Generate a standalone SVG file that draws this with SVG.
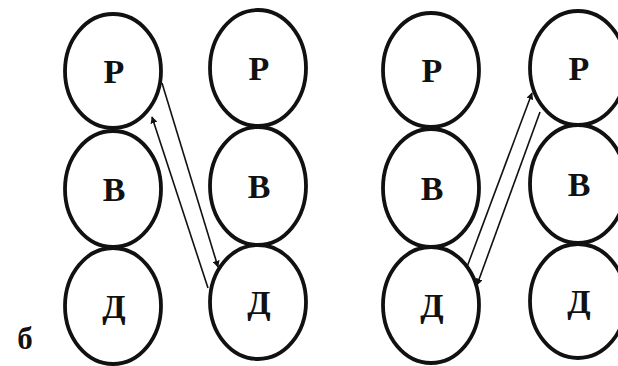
<svg xmlns="http://www.w3.org/2000/svg" width="618" height="366" viewBox="0 0 618 366">
<defs>
<style>
.n ellipse{fill:none;stroke:#111;stroke-width:3.8}
.n text{font-family:"Liberation Serif","DejaVu Serif",serif;font-weight:bold;font-size:34px;fill:#111;text-anchor:middle}
.c line{stroke:#111;stroke-width:1.6}
</style>
<marker id="ah" viewBox="0 0 10 10" refX="9" refY="5" markerWidth="7" markerHeight="7" markerUnits="userSpaceOnUse" orient="auto">
<path d="M0,0 L10,5 L0,10 z" fill="#111"/>
</marker>
</defs>
<rect width="618" height="366" fill="#fff"/>
<g id="c1p" class="n"><ellipse cx="113" cy="71" rx="48" ry="57"/><text x="114" y="83">Р</text></g>
<g id="c1b" class="n"><ellipse cx="113" cy="189" rx="48" ry="58"/><text x="114" y="201">В</text></g>
<g id="c1d" class="n"><ellipse cx="113" cy="306" rx="48" ry="58"/><text x="114" y="318">Д</text></g>
<g id="c2p" class="n"><ellipse cx="258" cy="68" rx="48" ry="58"/><text x="259" y="80">Р</text></g>
<g id="c2b" class="n"><ellipse cx="258" cy="186" rx="48" ry="59"/><text x="259" y="198">В</text></g>
<g id="c2d" class="n"><ellipse cx="258" cy="302" rx="48" ry="57"/><text x="259" y="314">Д</text></g>
<g id="c3p" class="n"><ellipse cx="431" cy="70" rx="48" ry="57"/><text x="432" y="82">Р</text></g>
<g id="c3b" class="n"><ellipse cx="431" cy="188" rx="48" ry="59"/><text x="432" y="200">В</text></g>
<g id="c3d" class="n"><ellipse cx="431" cy="305" rx="48" ry="58"/><text x="432" y="317">Д</text></g>
<g id="c4p" class="n"><ellipse cx="578" cy="68" rx="48" ry="57"/><text x="579" y="80">Р</text></g>
<g id="c4b" class="n"><ellipse cx="578" cy="184" rx="48" ry="59"/><text x="579" y="196">В</text></g>
<g id="c4d" class="n"><ellipse cx="578" cy="301" rx="48" ry="57"/><text x="579" y="313">Д</text></g>
<g id="connectors" class="c">
<line x1="162" y1="83" x2="218" y2="267" marker-end="url(#ah)"/>
<line x1="208" y1="288" x2="152" y2="117" marker-end="url(#ah)"/>
<line x1="467" y1="267" x2="532" y2="93" marker-end="url(#ah)"/>
<line x1="540" y1="112" x2="477" y2="285" marker-end="url(#ah)"/>
</g>
<text x="25" y="349" font-family="Liberation Serif,DejaVu Serif,serif" font-weight="bold" font-size="31" fill="#111" text-anchor="middle">б</text>
</svg>
